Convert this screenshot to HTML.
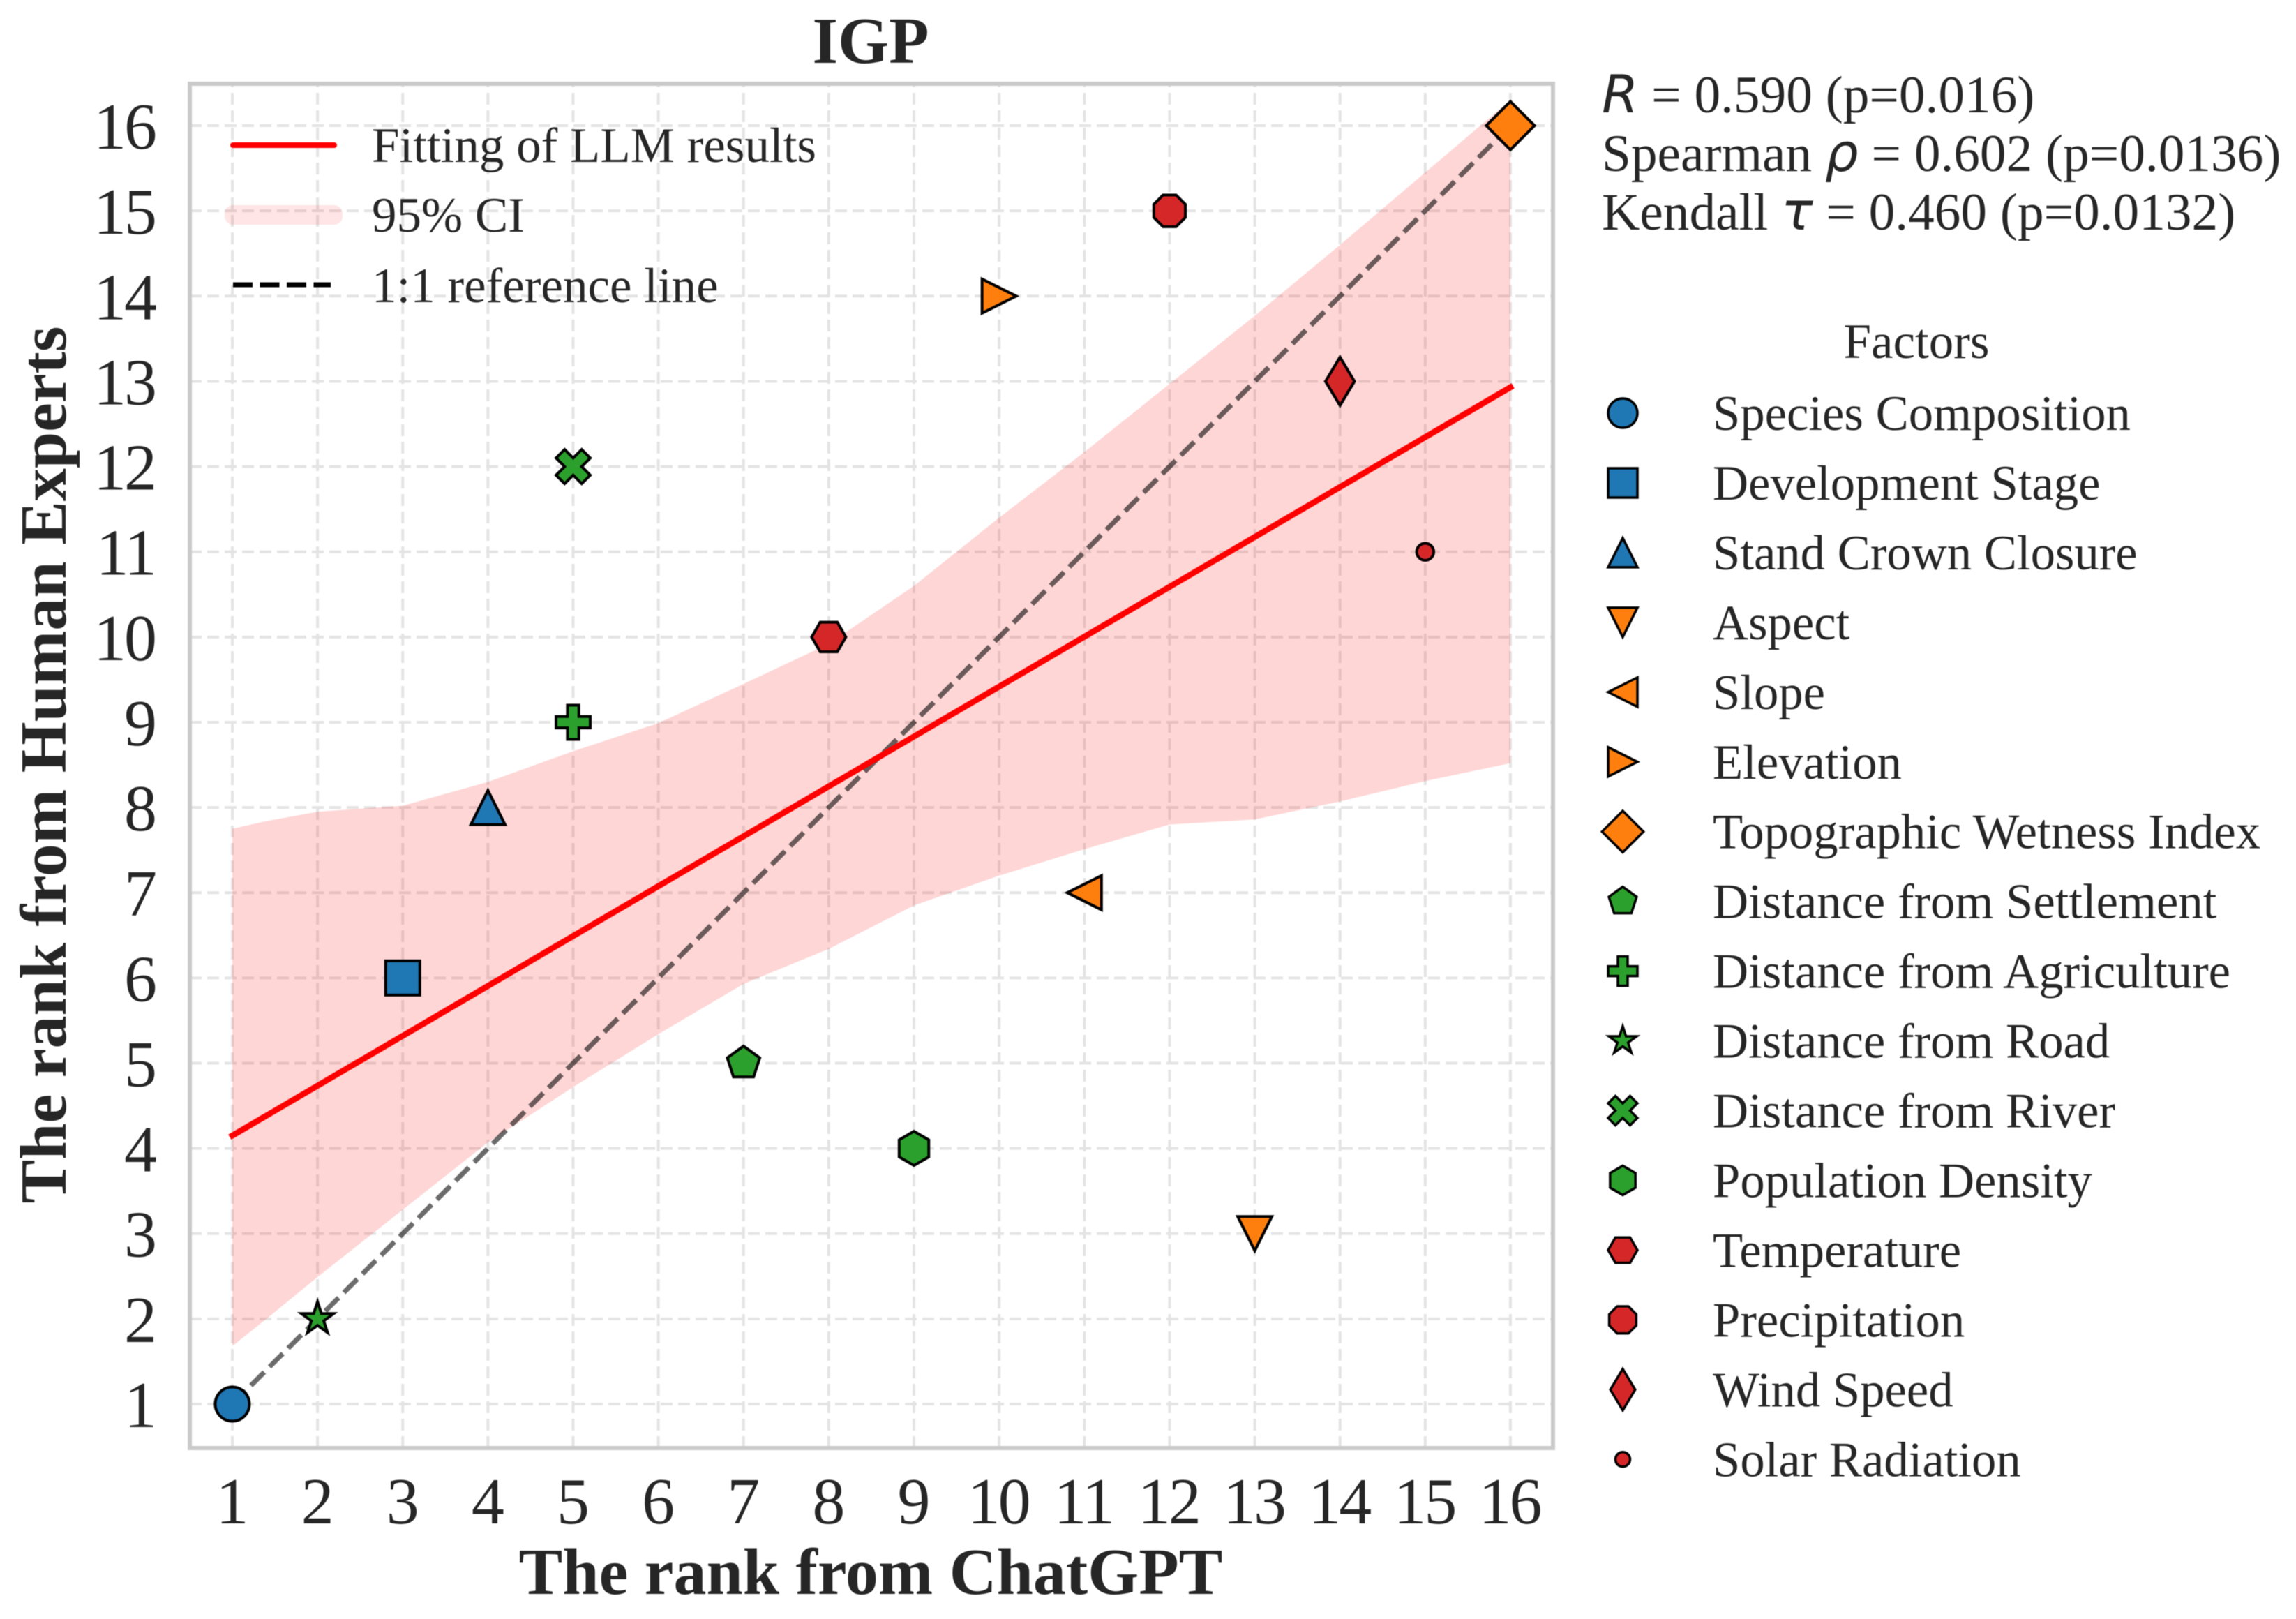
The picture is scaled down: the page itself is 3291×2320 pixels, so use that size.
<!DOCTYPE html>
<html lang="en">
<head>
<meta charset="utf-8">
<title>IGP rank comparison</title>
<style>
html,body{margin:0;padding:0;background:#fff;}
svg{display:block;filter:blur(0.6px);}
text{font-family:"Liberation Serif",serif;fill:#262626;}
.math{font-family:"DejaVu Sans",sans-serif;font-style:italic;}
.bold{font-weight:bold;}
.lg{font-size:71px;}
.st{font-size:75.3px;}
</style>
</head>
<body>
<svg id="chart" xmlns="http://www.w3.org/2000/svg" width="3291" height="2320" viewBox="0 0 3291 2320">
  <rect x="0" y="0" width="3291" height="2320" fill="#ffffff"/>
  <rect x="272" y="120" width="1954" height="1955" fill="#ffffff"/>
  <g id="grid"></g>
  <path id="band" fill="#ff0000" fill-opacity="0.16" stroke="none"></path>
  <line id="refLine" stroke="#000000" stroke-opacity="0.58" stroke-width="7" stroke-dasharray="27 10.7"></line>
  <line id="fitLine" stroke="#ff0000" stroke-width="8.5" stroke-linecap="square"></line>
  <g id="points"></g>
  <rect x="272" y="120" width="1954" height="1955" fill="none" stroke="#cacaca" stroke-width="6"/>
  <g id="xTicks"></g>
  <g id="yTicks"></g>

  <text class="bold" x="1248" y="90" font-size="94" text-anchor="middle">IGP</text>
  <text class="bold" x="1248" y="2284" font-size="94" text-anchor="middle">The rank from ChatGPT</text>
  <text class="bold" x="0" y="0" font-size="94" text-anchor="middle" transform="translate(94 1096) rotate(-90)">The rank from Human Experts</text>

  <g>
    <line x1="334" y1="208" x2="479" y2="208" stroke="#ff0000" stroke-width="8" stroke-linecap="round"/>
    <text class="lg" x="533" y="232">Fitting of LLM results</text>
    <rect x="322" y="294" width="169" height="28" rx="12" ry="12" fill="#ff0000" fill-opacity="0.1"/>
    <text class="lg" x="533" y="332">95% CI</text>
    <line x1="334" y1="408" x2="474" y2="408" stroke="#000000" stroke-width="7" stroke-dasharray="28 10.5"/>
    <text class="lg" x="533" y="433">1:1 reference line</text>
  </g>

  <g>
    <text class="st" x="2296" y="161" xml:space="preserve"><tspan class="math">R</tspan> = 0.590 (p=0.016)</text>
    <text class="st" x="2296" y="245" xml:space="preserve">Spearman <tspan class="math">ρ</tspan> = 0.602 (p=0.0136)</text>
    <text class="st" x="2296" y="329" xml:space="preserve">Kendall <tspan class="math">τ</tspan> = 0.460 (p=0.0132)</text>
  </g>

  <text class="lg" x="2747" y="513" text-anchor="middle">Factors</text>
  <g id="factorLegend"></g>
</svg>
<script>
// ---- chart data ----
const categories = ["Species Composition","Development Stage","Stand Crown Closure","Aspect","Slope","Elevation","Topographic Wetness Index","Distance from Settlement","Distance from Agriculture","Distance from Road","Distance from River","Population Density","Temperature","Precipitation","Wind Speed","Solar Radiation"];
const chatgptRank = [1,3,4,13,11,10,16,7,5,2,5,9,8,12,14,15];
const expertRank = [1,6,8,3,7,14,16,5,9,2,12,4,10,15,13,11];
const tickLabels = [1,2,3,4,5,6,7,8,9,10,11,12,13,14,15,16];
const bandX = [1,1.4,2,3,4,5,6,7,8,9,10,11,12,13,14,15,16];
const bandUpper = [7.75,7.84,7.95,8.02,8.3,8.66,8.99,9.45,9.92,10.6,11.4,12.17,12.97,13.77,14.6,15.45,16.3];
const bandLower = [1.68,2.0,2.49,3.28,4.07,4.72,5.34,5.93,6.34,6.85,7.2,7.51,7.8,7.86,8.07,8.31,8.52];
const fitX = [1,16];
const fitY = [4.15,12.93];
const referenceX = [1,16];
const referenceY = [1,16];
const factorGroup = ["blue","blue","blue","orange","orange","orange","orange","green","green","green","green","green","red","red","red","red"];
const markerKind = ["o","s","^","v","<",">","D","p","P","*","X","h","H","8","d","."];

// ---- axis functions ----
const UNIT = 122.13;
function sx(v){ return 333 + (v - 1) * UNIT; }
function sy(v){ return 2012 - (v - 1) * UNIT; }

// ---- styles and marker geometry ----
const palette = {blue:"#1f77b4",orange:"#ff7f0e",green:"#2ca02c",red:"#d62728"};
const NS = "http://www.w3.org/2000/svg";
function regular(n, startDeg, r){
  const out = [];
  for(let i=0;i<n;i++){
    const a = (startDeg + i*360/n) * Math.PI/180;
    out.push([r*Math.sin(a), -r*Math.cos(a)]);
  }
  return out;
}
function star(){
  const out = [];
  for(let i=0;i<10;i++){
    const r = i%2 ? 0.5*0.381966 : 0.5;
    const a = i*36*Math.PI/180;
    out.push([r*Math.sin(a), -r*Math.cos(a)]);
  }
  return out;
}
function gridScaled(list, d){ return list.map(function(p){ return [p[0]/d, p[1]/d]; }); }
const shapes = {
  "s":[[-.5,-.5],[.5,-.5],[.5,.5],[-.5,.5]],
  "^":[[0,-.5],[.5,.5],[-.5,.5]],
  "v":[[0,.5],[.5,-.5],[-.5,-.5]],
  "<":[[-.5,0],[.5,-.5],[.5,.5]],
  ">":[[.5,0],[-.5,-.5],[-.5,.5]],
  "D":[[0,-.7071],[.7071,0],[0,.7071],[-.7071,0]],
  "d":[[0,-.7071],[.4243,0],[0,.7071],[-.4243,0]],
  "p":regular(5,0,.5),
  "h":regular(6,0,.5),
  "H":regular(6,30,.5),
  "8":regular(8,22.5,.5),
  "*":star(),
  "P":gridScaled([[-1,-3],[1,-3],[1,-1],[3,-1],[3,1],[1,1],[1,3],[-1,3],[-1,1],[-3,1],[-3,-1],[-1,-1]],6),
  "X":gridScaled([[-1,-2],[0,-1],[1,-2],[2,-1],[1,0],[2,1],[1,2],[0,1],[-1,2],[-2,1],[-1,0],[-2,-1]],4)
};
function makeMarker(kind, cx, cy, size, sw, color){
  let el;
  if(kind === "o" || kind === "."){
    el = document.createElementNS(NS,"circle");
    el.setAttribute("cx",cx);
    el.setAttribute("cy",cy);
    el.setAttribute("r",(kind === "o" ? 0.5 : 0.25)*size);
  } else {
    el = document.createElementNS(NS,"polygon");
    el.setAttribute("points",shapes[kind].map(function(p){ return (cx+p[0]*size).toFixed(2)+","+(cy+p[1]*size).toFixed(2); }).join(" "));
  }
  el.setAttribute("fill",color);
  el.setAttribute("stroke","#000000");
  el.setAttribute("stroke-width",sw);
  el.setAttribute("stroke-linejoin","miter");
  return el;
}
function slug(s){ return s.toLowerCase().replace(/\s+/g,"-"); }

// ---- grid ----
const gridG = document.getElementById("grid");
tickLabels.forEach(function(t){
  const v = document.createElementNS(NS,"line");
  v.setAttribute("x1",sx(t));
  v.setAttribute("x2",sx(t));
  v.setAttribute("y1",2075);
  v.setAttribute("y2",120);
  v.setAttribute("stroke","#e4e4e4");
  v.setAttribute("stroke-width",4);
  v.setAttribute("stroke-dasharray","17 8");
  
  
  gridG.appendChild(v);
  const h = document.createElementNS(NS,"line");
  h.setAttribute("x1",272);
  h.setAttribute("x2",2226);
  h.setAttribute("y1",sy(t));
  h.setAttribute("y2",sy(t));
  h.setAttribute("stroke","#e4e4e4");
  h.setAttribute("stroke-width",4);
  h.setAttribute("stroke-dasharray","17 8");
  
  
  gridG.appendChild(h);
});

// ---- band and lines ----
let bandPath = "";
bandX.forEach(function(x,i){ bandPath += (i ? "L" : "M") + sx(x).toFixed(1) + " " + sy(bandUpper[i]).toFixed(1); });
for(let i=bandX.length-1;i>=0;i--){ bandPath += "L" + sx(bandX[i]).toFixed(1) + " " + sy(bandLower[i]).toFixed(1); }
document.getElementById("band").setAttribute("d",bandPath+"Z");

const ref = document.getElementById("refLine");
ref.setAttribute("x1",sx(referenceX[0]));
ref.setAttribute("y1",sy(referenceY[0]));
ref.setAttribute("x2",sx(referenceX[1]));
ref.setAttribute("y2",sy(referenceY[1]));

const fit = document.getElementById("fitLine");
fit.setAttribute("x1",sx(fitX[0]));
fit.setAttribute("y1",sy(fitY[0]));
fit.setAttribute("x2",sx(fitX[1]));
fit.setAttribute("y2",sy(fitY[1]));

// ---- points ----
const pointsG = document.getElementById("points");
categories.forEach(function(name,i){
  const m = makeMarker(markerKind[i], sx(chatgptRank[i]), sy(expertRank[i]), 49, 4, palette[factorGroup[i]]);
  
  
  pointsG.appendChild(m);
});

// ---- ticks ----
const xT = document.getElementById("xTicks");
const yT = document.getElementById("yTicks");
tickLabels.forEach(function(t){
  const a = document.createElementNS(NS,"text");
  a.setAttribute("x",sx(t)-1.5);
  a.setAttribute("y",2183);
  a.setAttribute("font-size",94);
  a.setAttribute("letter-spacing",-3);
  a.setAttribute("text-anchor","middle");
  a.textContent = t;
  
  
  xT.appendChild(a);
  const b = document.createElementNS(NS,"text");
  b.setAttribute("x",222);
  b.setAttribute("y",sy(t)+33);
  b.setAttribute("font-size",94);
  b.setAttribute("letter-spacing",-3);
  b.setAttribute("text-anchor","end");
  b.textContent = t;
  
  
  yT.appendChild(b);
});

// ---- factor legend ----
const legendG = document.getElementById("factorLegend");
categories.forEach(function(name,i){
  const rowY = 592 + i*99.95;
  const m = makeMarker(markerKind[i], 2326, rowY, 42, 3.5, palette[factorGroup[i]]);
  
  
  legendG.appendChild(m);
  const t = document.createElementNS(NS,"text");
  t.setAttribute("x",2455);
  t.setAttribute("y",rowY+24);
  t.setAttribute("font-size",70.7);
  t.textContent = name;
  
  
  legendG.appendChild(t);
});
</script>
</body>
</html>
